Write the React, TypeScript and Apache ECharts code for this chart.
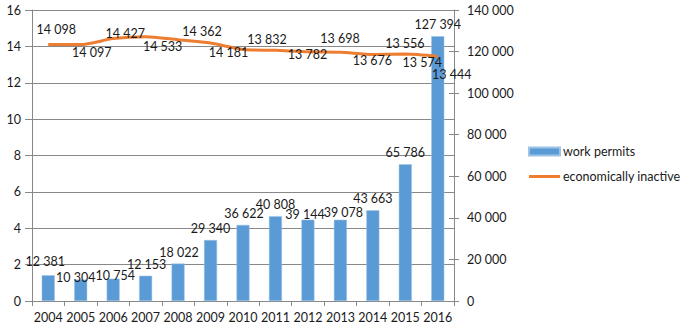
import React, { useEffect, useRef } from "react";
import * as echarts from "echarts";

const years = ["2004","2005","2006","2007","2008","2009","2010","2011","2012","2013","2014","2015","2016"];
const workPermits = [12381, 10304, 10754, 12153, 18022, 29340, 36622, 40808, 39144, 39078, 43663, 65786, 127394];
const econInactive = [14098, 14097, 14427, 14533, 14362, 14181, 13832, 13782, 13698, 13676, 13556, 13574, 13444];
const leftTicks = [0, 2, 4, 6, 8, 10, 12, 14, 16];

// label offsets [dx, dy] relative to default position
const barLabelOffsets = [[-3,-2],[-5,9],[2,8],[1,0],[1,0],[0,0],[1,0],[0,0],[-3,6],[3,4],[0,0],[0,0],[0,0]];
const lineLabelOffsets = [[8,-15],[11,8],[12,-5],[17,10],[24,-8],[18,9],[24,-10],[32,4],[32,-13],[32,8],[32,-11],[17,8],[14,18]];

const fmt = (v: number) => String(v).replace(/\B(?=(\d{3})+(?!\d))/g, " ");
const FONT = "Lato";
const TXT = "#1a1a1a";
const GRAY = "#888888";
const FS = 12.5;

export default function App() {
  const ref = useRef<HTMLDivElement>(null);
  useEffect(() => {
    const chart = echarts.init(ref.current!, null, { renderer: "svg" });
    chart.setOption({
      animation: false,
      textStyle: { fontFamily: FONT },
      grid: { left: 32, right: 234, top: 10, bottom: 29, containLabel: false },
      legend: {
        orient: "vertical",
        left: 528,
        top: 145,
        padding: 0,
        itemWidth: 31,
        itemHeight: 8,
        itemGap: 12,
        textStyle: { fontFamily: FONT, fontSize: FS, color: TXT, padding: [0, 0, 0, -2] },
        data: [
          { name: "work permits", icon: "rect" },
          {
            name: "economically inactive",
            icon: "path://M0,0 L0.01,0 M0,8 L0.01,8 M31,0 L31.01,0 M0,2.5 L31,2.5 L31,5.5 L0,5.5 Z",
          },
        ],
      },
      xAxis: {
        type: "category",
        data: years,
        axisLine: { lineStyle: { color: GRAY } },
        axisTick: { show: true, length: 5, lineStyle: { color: GRAY } },
        axisLabel: { color: TXT, fontSize: FS, fontFamily: FONT, margin: 10, interval: 0 },
      },
      yAxis: [
        {
          type: "value",
          min: 0,
          max: 16,
          interval: 2,
          position: "left",
          axisLine: { show: true, lineStyle: { color: GRAY } },
          axisTick: { show: true, length: 7, lineStyle: { color: GRAY } },
          axisLabel: { color: TXT, fontSize: FS, fontFamily: FONT, margin: 11, formatter: (v: number) => (leftTicks.includes(v) ? String(v) : "") },
          splitLine: { show: true, lineStyle: { color: GRAY, width: 1 } },
        },
        {
          type: "value",
          min: 0,
          max: 140000,
          interval: 20000,
          position: "right",
          axisLine: { show: true, lineStyle: { color: GRAY } },
          axisTick: { show: true, length: 5, lineStyle: { color: GRAY } },
          axisLabel: { color: TXT, fontSize: FS, fontFamily: FONT, margin: 13, formatter: (v: number) => fmt(v) },
          splitLine: { show: false },
        },
        {
          type: "value",
          min: 0,
          max: 16000,
          interval: 2000,
          show: false,
          splitLine: { show: false },
        },
        {
          type: "value",
          min: 0,
          max: 140000,
          interval: 20000,
          position: "right",
          axisLine: { show: false },
          axisTick: { show: true, inside: true, length: 5, lineStyle: { color: GRAY } },
          axisLabel: { show: false },
          splitLine: { show: false },
        },
      ],
      series: [
        {
          name: "work permits",
          type: "bar",
          yAxisIndex: 1,
          barWidth: 13,
          itemStyle: { color: "#5B9BD5", borderColor: "#9dc3e6", borderWidth: 0.5 },
          data: workPermits.map((v, i) => ({
            value: v,
            label: { offset: barLabelOffsets[i] },
          })),
          label: {
            show: true,
            position: "top",
            distance: 5,
            color: TXT,
            fontSize: FS,
            fontFamily: FONT,
            formatter: (p: any) => fmt(p.value),
          },
          z: 2,
        },
        {
          name: "economically inactive",
          type: "line",
          yAxisIndex: 2,
          smooth: 0.25,
          symbol: "none",
          lineStyle: { color: "#ED7D31", width: 3 },
          itemStyle: { color: "#ED7D31" },
          data: econInactive,
          z: 3,
        },
        {
          name: "economically inactive labels",
          type: "scatter",
          yAxisIndex: 2,
          symbolSize: 1,
          itemStyle: { color: "#ED7D31", opacity: 0 },
          silent: true,
          data: econInactive.map((v, i) => ({
            value: v,
            label: { offset: lineLabelOffsets[i] },
          })),
          label: {
            show: true,
            position: "inside",
            color: TXT,
            opacity: 1,
            textBorderWidth: 0,
            fontSize: FS,
            fontFamily: FONT,
            formatter: (p: any) => fmt(p.value),
          },
          z: 4,
        },
      ],
    });
    return () => chart.dispose();
  }, []);
  return <div ref={ref} style={{ position: "absolute", left: 0, top: 0, width: 688, height: 330 }} />;
}
